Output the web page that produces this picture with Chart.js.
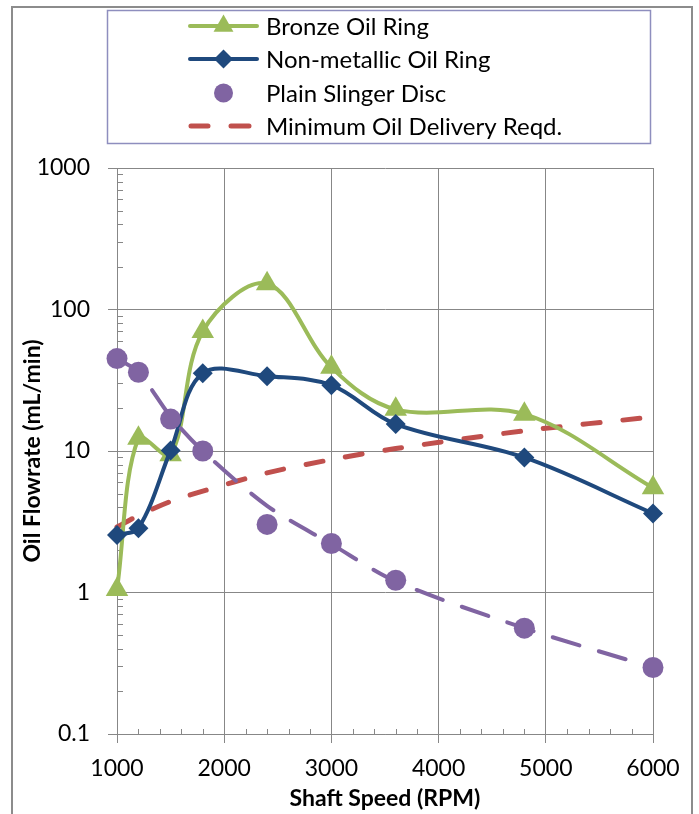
<!DOCTYPE html>
<html>
<head>
<meta charset="utf-8">
<script src="https://cdn.jsdelivr.net/npm/chart.js@4/dist/chart.umd.min.js"></script>
<style>
  html, body { margin: 0; padding: 0; background: #fff; }
  #wrap { width: 699px; height: 814px; }
</style>
</head>
<body>
<div id="wrap"><canvas id="chart" width="699" height="814"></canvas></div>
<script>
// Oil flowrate vs shaft speed
const speeds = [1000, 1200, 1500, 1800, 2400, 3000, 3600, 4800, 6000];
const bronze = [1.05, 12.3, 9.4, 70, 152, 39, 19.7, 18.2, 5.5];
const nonMetallic = [2.55, 2.85, 10.1, 35.5, 33.8, 29.2, 15.5, 9.0, 3.62];
const slinger = [45, 36, 16.8, 10, 3.03, 2.22, 1.22, 0.56, 0.295];
const slingerTrend = [45, 36, 17.5, 10, 4.1, 2.2, 1.2, 0.56, 0.295];
const minDelivery = [2.9, 3.5, 4.4, 5.2, 7.0, 8.7, 10.4, 13.9, 17.4];
const yTicks = [0.1, 1, 10, 100, 1000];
const xMinorStep = 200;

const GREEN = '#9bbb59', BLUE = '#1f497d', PURPLE = '#8064a2', RED = '#c0504d', GRID = '#878787';

const pts = arr => speeds.map((s, i) => ({ x: s, y: arr[i] }));

Chart.defaults.font.family = 'Lato';
Chart.defaults.color = '#000';

// minor ticks drawn inside the plot, like the spreadsheet original
const minorTicks = {
    id: 'minorTicks',
    beforeDatasetsDraw(chart) {
        const { ctx, chartArea: a, scales: { x, y } } = chart;
        ctx.save();
        ctx.strokeStyle = GRID;
        ctx.lineWidth = 1;
        ctx.beginPath();
        for (let v = x.min + xMinorStep; v < x.max; v += xMinorStep) {
            if (v % 1000 === 0) continue;
            const px = Math.round(x.getPixelForValue(v)) + 0.5;
            ctx.moveTo(px, a.bottom); ctx.lineTo(px, a.bottom - 5);
        }
        yTicks.slice(0, -1).forEach(d => {
            for (let m = 2; m <= 9; m++) {
                const py = Math.round(y.getPixelForValue(d * m)) + 0.5;
                ctx.moveTo(a.left, py); ctx.lineTo(a.left + 6, py);
            }
        });
        ctx.stroke();
        ctx.restore();
    }
};

// boxed legend + outer frame
const boxLegend = {
    id: 'boxLegend',
    afterDraw(chart) {
        const ctx = chart.ctx;
        ctx.save();
        ctx.strokeStyle = '#8c8c8c';
        ctx.lineWidth = 2;
        ctx.strokeRect(12, 7, 680, 830);

        ctx.strokeStyle = '#8e8ebe';
        ctx.lineWidth = 1.5;
        ctx.strokeRect(107.5, 10.5, 543, 133);

        const items = [
            { label: 'Bronze Oil Ring', color: GREEN, style: 'triangle', r: 11.5, line: true },
            { label: 'Non-metallic Oil Ring', color: BLUE, style: 'rectRot', r: 9.5, line: true },
            { label: 'Plain Slinger Disc', color: PURPLE, style: 'circle', r: 9.5, line: false },
            { label: 'Minimum Oil Delivery Reqd.', color: RED, style: false, r: 0, line: 'dash' },
        ];
        const rows = [26, 59, 93, 126];
        ctx.font = '24px Lato';
        ctx.textBaseline = 'middle';
        items.forEach((it, i) => {
            const yy = rows[i];
            ctx.strokeStyle = it.color;
            ctx.fillStyle = it.color;
            ctx.lineCap = 'round';
            ctx.lineWidth = it.line === 'dash' ? 5 : 4;
            ctx.beginPath();
            if (it.line === true) {
                ctx.moveTo(190, yy); ctx.lineTo(257, yy);
            } else if (it.line === 'dash') {
                ctx.moveTo(191, yy); ctx.lineTo(208, yy);
                ctx.moveTo(231, yy); ctx.lineTo(249, yy);
            }
            ctx.stroke();
            if (it.style) {
                Chart.helpers.drawPoint(ctx, { pointStyle: it.style, radius: it.r, rotation: 0, borderWidth: 0 }, 223.5, yy);
            }
            ctx.fillStyle = '#000';
            ctx.fillText(it.label, 266, yy + 1);
        });
        ctx.restore();
    }
};

new Chart(document.getElementById('chart'), {
    type: 'line',
    data: {
        datasets: [
            {
                label: 'Plain Slinger Disc', data: pts(slinger), order: 0, clip: false,
                showLine: false, pointStyle: 'circle', pointRadius: 10.5,
                pointBackgroundColor: PURPLE, pointBorderWidth: 0, borderColor: PURPLE
            },
            {
                label: 'slinger trend', data: pts(slingerTrend), order: 1, clip: false,
                borderColor: PURPLE, borderWidth: 4, borderDash: [28, 20], borderCapStyle: 'round',
                pointRadius: 0, tension: 0.3
            },
            {
                label: 'Non-metallic Oil Ring', data: pts(nonMetallic), order: 2, clip: false,
                borderColor: BLUE, borderWidth: 4, tension: 0.35,
                pointStyle: 'rectRot', pointRadius: 10, pointBackgroundColor: BLUE, pointBorderWidth: 0
            },
            {
                label: 'Bronze Oil Ring', data: pts(bronze), order: 3, clip: false,
                borderColor: GREEN, borderWidth: 4, tension: 0.35,
                pointStyle: 'triangle', pointRadius: 13, pointBackgroundColor: GREEN, pointBorderWidth: 0
            },
            {
                label: 'Minimum Oil Delivery Reqd.', data: pts(minDelivery), order: 4, clip: false,
                borderColor: RED, borderWidth: 5, borderDash: [17, 23], borderCapStyle: 'round',
                pointRadius: 0, tension: 0.3
            }
        ]
    },
    options: {
        responsive: false,
        animation: false,
        layout: { padding: { top: 168, left: 0, right: 46, bottom: 0 } },
        plugins: { legend: { display: false }, tooltip: { enabled: false } },
        scales: {
            x: {
                type: 'linear', min: 1000, max: 6000,
                afterFit: s => { s.height = 80; },
                ticks: { stepSize: 1000, padding: 12, font: { size: 23 }, maxRotation: 0, callback: v => String(v) },
                grid: { color: GRID, tickColor: GRID, tickLength: 9, lineWidth: 1 },
                border: { color: GRID, width: 1 },
                title: { display: true, text: 'Shaft Speed (RPM)', font: { size: 23, weight: 'bold' }, padding: { top: 0, bottom: 2 } }
            },
            y: {
                type: 'logarithmic', min: 0.1, max: 1000,
                afterFit: s => { s.width = 117; },
                afterBuildTicks: s => { s.ticks = yTicks.map(v => ({ value: v })); },
                ticks: { padding: 18, font: { size: 23 }, callback: v => String(v) },
                grid: { color: GRID, tickColor: GRID, tickLength: 9, lineWidth: 1 },
                border: { color: GRID, width: 1 },
                title: { display: true, text: 'Oil Flowrate (mL/min)', font: { size: 23, weight: 'bold' }, padding: { top: 19, bottom: 0 } }
            }
        }
    },
    plugins: [minorTicks, boxLegend]
});
</script>
</body>
</html>
